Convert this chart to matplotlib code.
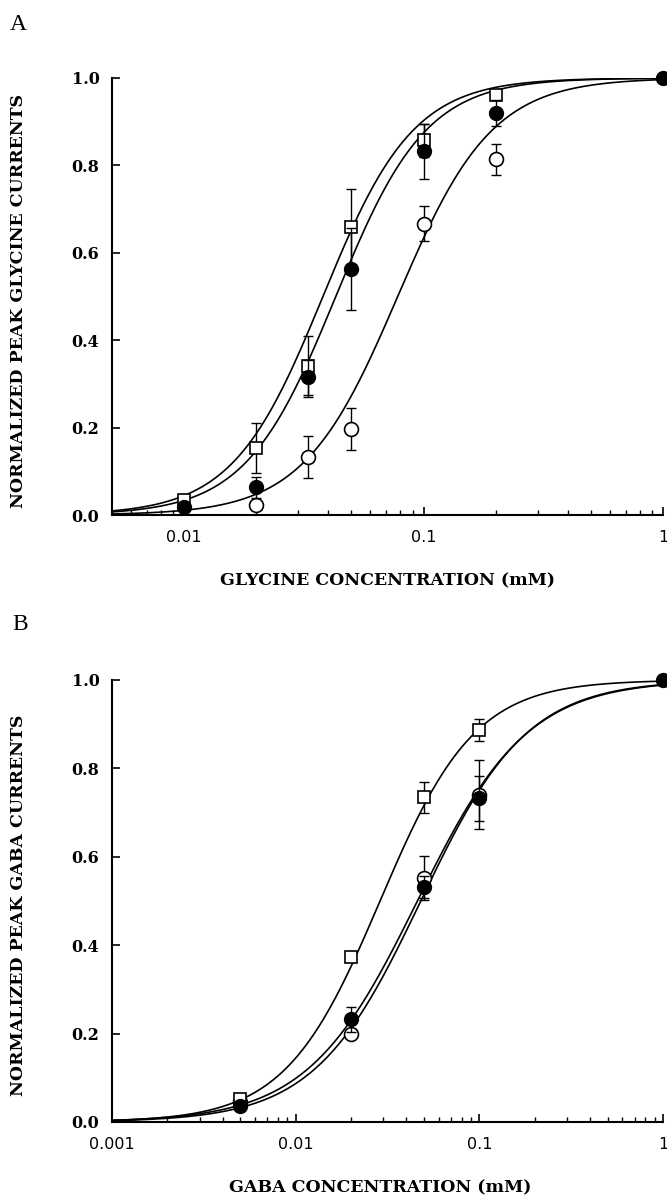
import numpy as np
import matplotlib
matplotlib.use('Agg')
import matplotlib.pyplot as plt
from matplotlib.ticker import LogLocator, FixedLocator, FixedFormatter, NullFormatter

# ---------------- Panel A: glycine ----------------
gly_sq_x = [0.01, 0.02, 0.033, 0.05, 0.1, 0.2]
gly_sq_y = [0.035, 0.154, 0.34, 0.66, 0.857, 0.96]
gly_sq_e = [0.0, 0.057, 0.07, 0.087, 0.037, 0.0]

gly_fc_x = [0.01, 0.02, 0.033, 0.05, 0.1, 0.2, 1.0]
gly_fc_y = [0.018, 0.063, 0.315, 0.563, 0.832, 0.92, 1.0]
gly_fc_e = [0.0, 0.024, 0.04, 0.094, 0.062, 0.03, 0.0]

gly_oc_x = [0.02, 0.033, 0.05, 0.1, 0.2]
gly_oc_y = [0.024, 0.133, 0.197, 0.667, 0.814]
gly_oc_e = [0.0, 0.048, 0.048, 0.04, 0.035]

# fitted Hill curves (EC50 in mM, Hill coefficient)
gly_fit_ec50 = [0.038, 0.043, 0.078]
gly_fit_n = [2.3, 2.3, 2.2]

# ---------------- Panel B: GABA ----------------
gaba_sq_x = [0.005, 0.02, 0.05, 0.1]
gaba_sq_y = [0.052, 0.373, 0.735, 0.887]
gaba_sq_e = [0.0, 0.0, 0.035, 0.025]

gaba_oc_x = [0.005, 0.02, 0.05, 0.1]
gaba_oc_y = [0.046, 0.200, 0.552, 0.740]
gaba_oc_e = [0.0, 0.01, 0.05, 0.078]

gaba_fc_x = [0.005, 0.02, 0.05, 0.1, 1.0]
gaba_fc_y = [0.037, 0.232, 0.532, 0.732, 1.0]
gaba_fc_e = [0.0, 0.028, 0.025, 0.05, 0.0]

gaba_fit_ec50 = [0.0288, 0.046, 0.048]
gaba_fit_n = [1.68, 1.45, 1.5]

W, H = 667, 1198
fig = plt.figure(figsize=(W / 100, H / 100), dpi=100)

label_font = dict(family='DejaVu Serif', weight='bold', size=12.5)
ytick_font = dict(family='DejaVu Serif', weight='bold', size=11.5)
xtick_font = dict(family='DejaVu Sans', weight='normal', size=11.5)


def hill(x, ec50, n):
    return x ** n / (x ** n + ec50 ** n)


def draw_panel(ax, xmin, series, fits, xticks, xticklabels, xlabel, ylabel, xlabel_x):
    xs = np.logspace(np.log10(xmin), 0, 400)
    for ec50, n in zip(*fits):
        ax.plot(xs, hill(xs, ec50, n), color='black', lw=1.2, zorder=2)
    for (x, y, e, kind) in series:
        if kind == 'sq':
            mk = dict(marker='s', ms=8, mfc='white', mec='black', mew=1.2)
            z = 4
        elif kind == 'oc':
            mk = dict(marker='o', ms=10, mfc='white', mec='black', mew=1.2)
            z = 3
        else:
            mk = dict(marker='o', ms=10, mfc='black', mec='black', mew=1.0)
            z = 5
        ax.errorbar(x, y, yerr=e, fmt='none', ecolor='black', elinewidth=1.0,
                    capsize=3.6, capthick=1.0, zorder=z - 0.5, clip_on=False)
        ax.plot(x, y, ls='none', zorder=z, clip_on=False, **mk)

    ax.set_xscale('log')
    ax.set_xlim(xmin, 1.0)
    ax.set_ylim(0.0, 1.0)
    for s in ['top', 'right']:
        ax.spines[s].set_visible(False)
    for s in ['left', 'bottom']:
        ax.spines[s].set_linewidth(1.5)
    ax.xaxis.set_major_locator(FixedLocator(xticks))
    ax.xaxis.set_major_formatter(FixedFormatter(xticklabels))
    ax.xaxis.set_minor_locator(LogLocator(base=10, subs=np.arange(2, 10), numticks=20))
    ax.xaxis.set_minor_formatter(NullFormatter())
    ax.set_yticks([0.0, 0.2, 0.4, 0.6, 0.8, 1.0])
    ax.set_yticklabels(['0.0', '0.2', '0.4', '0.6', '0.8', '1.0'])
    ax.tick_params(axis='both', which='major', direction='in', length=6, width=1.2)
    ax.tick_params(axis='x', which='minor', direction='in', length=3.5, width=1.0)
    ax.tick_params(axis='y', pad=9)
    ax.tick_params(axis='x', pad=11)
    for t in ax.get_yticklabels():
        t.set_fontproperties(matplotlib.font_manager.FontProperties(**ytick_font))
    for t in ax.get_xticklabels():
        t.set_fontproperties(matplotlib.font_manager.FontProperties(**xtick_font))
    ax.set_xlabel(xlabel, fontdict=label_font, va='center')
    ax.xaxis.set_label_coords(xlabel_x, -0.15)
    ax.set_ylabel(ylabel, fontdict=label_font, va='center')
    ax.yaxis.set_label_coords(-0.17, 0.49)


left = 112 / W
width = (663 - 112) / W

axA = fig.add_axes([left, 1 - 515 / H, width, (515 - 78) / H])
draw_panel(axA, 0.005,
           [(gly_oc_x, gly_oc_y, gly_oc_e, 'oc'),
            (gly_sq_x, gly_sq_y, gly_sq_e, 'sq'),
            (gly_fc_x, gly_fc_y, gly_fc_e, 'fc')],
           (gly_fit_ec50, gly_fit_n),
           [0.01, 0.1, 1.0], ['0.01', '0.1', '1'],
           'GLYCINE CONCENTRATION (mM)', 'NORMALIZED PEAK GLYCINE CURRENTS', 0.5)

axB = fig.add_axes([left, 1 - 1122 / H, width, (1122 - 680) / H])
draw_panel(axB, 0.001,
           [(gaba_oc_x, gaba_oc_y, gaba_oc_e, 'oc'),
            (gaba_sq_x, gaba_sq_y, gaba_sq_e, 'sq'),
            (gaba_fc_x, gaba_fc_y, gaba_fc_e, 'fc')],
           (gaba_fit_ec50, gaba_fit_n),
           [0.001, 0.01, 0.1, 1.0], ['0.001', '0.01', '0.1', '1'],
           'GABA CONCENTRATION (mM)', 'NORMALIZED PEAK GABA CURRENTS', 0.486)

fig.text(10 / W, 1 - 25 / H, 'A', family='Liberation Serif', size=17, va='center', ha='left')
fig.text(12 / W, 1 - 625 / H, 'B', family='Liberation Serif', size=17, va='center', ha='left')

fig.savefig('out.png', dpi=100, facecolor='white')
